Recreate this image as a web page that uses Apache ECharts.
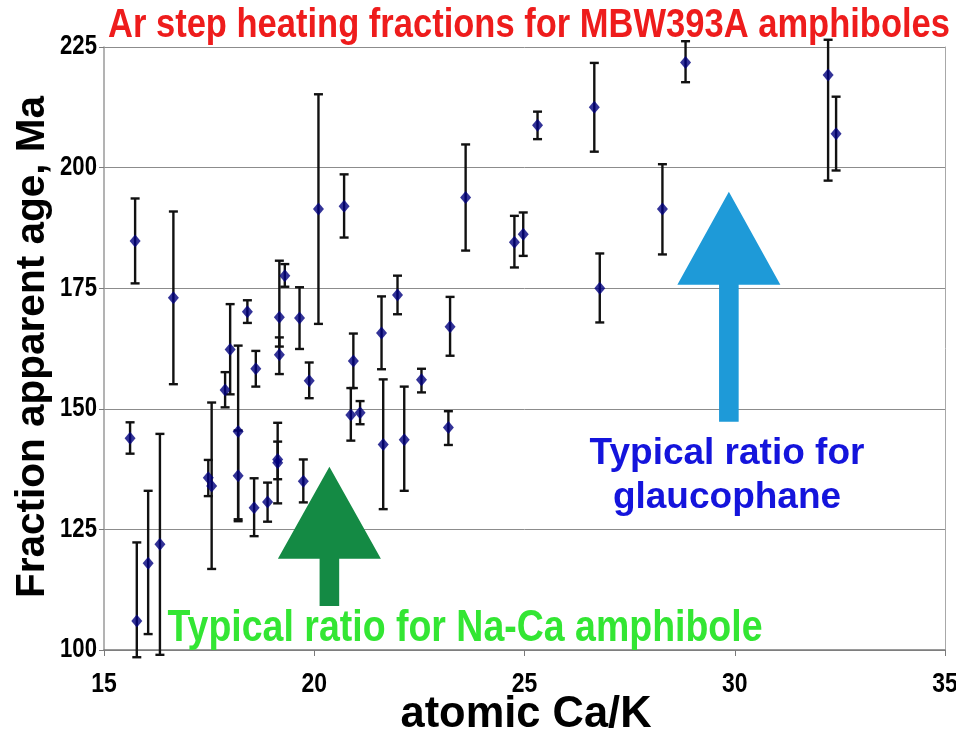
<!DOCTYPE html>
<html>
<head>
<meta charset="utf-8">
<script src="https://cdn.jsdelivr.net/npm/echarts@6/dist/echarts.min.js"></script>
<style>
  html, body { margin: 0; padding: 0; background: #fff; }
  #chart { width: 956px; height: 736px; }
</style>
</head>
<body>
<div id="chart"></div>
<script>
// Atomic Ca/K ratio of each step-heating fraction
const caK = [15.62, 15.74, 15.78, 16.05, 16.33, 16.65, 17.48, 17.56, 17.88, 18.00,
             18.19, 18.19, 18.41, 18.57, 18.61, 18.89, 19.13, 19.13, 19.17, 19.17,
             19.30, 19.65, 19.74, 19.88, 20.10, 20.71, 20.87, 20.93, 21.09, 21.60,
             21.64, 21.98, 22.14, 22.55, 23.19, 23.23, 23.60, 24.76, 24.97, 25.31,
             26.66, 26.79, 28.28, 28.83, 32.22, 32.41];
// Apparent age of each fraction (Ma)
const age = [143.9, 184.8, 106.0, 118.0, 121.9, 173.0, 135.7, 134.0, 153.9, 162.3,
             145.3, 136.1, 170.1, 129.5, 158.3, 130.7, 139.5, 138.8, 161.2, 169.0,
             177.6, 168.8, 135.0, 155.8, 191.4, 192.0, 148.7, 159.9, 149.2, 165.7,
             142.6, 173.6, 143.6, 156.0, 146.1, 167.0, 193.8, 184.5, 186.2, 208.8,
             212.5, 175.0, 191.4, 221.8, 219.2, 207.0];
// Upper end of each error bar (Ma)
const ageHigh = [147.2, 193.6, 122.3, 133.0, 144.8, 190.9, 139.4, 151.3, 157.6, 171.7,
                 163.1, 145.5, 172.5, 135.6, 162.0, 134.7, 147.1, 143.2, 164.8, 180.7,
                 180.0, 175.2, 139.5, 159.6, 215.2, 198.6, 154.3, 165.6, 151.6, 173.3,
                 156.1, 177.6, 154.6, 158.3, 149.5, 173.2, 204.8, 190.0, 190.7, 211.6,
                 221.7, 182.2, 200.7, 226.2, 226.5, 214.7];
// Lower end of each error bar (Ma)
const ageLow = [140.7, 176.0, 98.5, 103.3, 99.0, 155.1, 131.9, 116.8, 150.3, 153.0,
                127.1, 126.7, 167.8, 123.6, 154.6, 126.6, 130.4, 135.4, 157.2, 162.9,
                175.3, 162.4, 130.6, 152.2, 167.6, 185.5, 143.4, 154.3, 146.8, 158.2,
                129.2, 169.6, 133.0, 153.4, 142.5, 161.0, 182.8, 179.3, 181.7, 205.9,
                203.3, 167.9, 182.0, 217.7, 197.3, 199.4];

// Axis ranges and tick labels
const xTicks = [15, 20, 25, 30, 35];
const yTicks = [100, 125, 150, 175, 200, 225];

// Reference arrows in data space: [Ca/K, tip age, head-base age, tail age]
const arrowNaCa = [20.36, 138.0, 118.9, 109.1];
const arrowGlauc = [29.86, 195.0, 175.7, 147.3];

const FONT = '"Liberation Sans", Arial, sans-serif';
const NARROW = 0.82; // horizontal squeeze that gives a condensed bold face

const points = caK.map((x, i) => [x, age[i]]);
const bars = caK.map((x, i) => [x, ageLow[i], ageHigh[i]]);

const measureCtx = document.createElement('canvas').getContext('2d');
function textWidth(text, font) {
  measureCtx.font = font;
  return measureCtx.measureText(text).width;
}

const chart = echarts.init(document.getElementById('chart'), null, { renderer: 'canvas' });

function arrowItem(color) {
  return function (params, api) {
    const x = api.value(0);
    const tip = api.coord([x, api.value(1)]);
    const base = api.coord([x, api.value(2)]);
    const tail = api.coord([x, api.value(3)]);
    const headHalf = 51.5;
    const shaftHalf = 9.8;
    return {
      type: 'polygon',
      shape: {
        points: [
          [tip[0], tip[1]],
          [tip[0] + headHalf, base[1]],
          [tip[0] + shaftHalf, base[1]],
          [tip[0] + shaftHalf, tail[1]],
          [tip[0] - shaftHalf, tail[1]],
          [tip[0] - shaftHalf, base[1]],
          [tip[0] - headHalf, base[1]]
        ]
      },
      style: { fill: color, stroke: null }
    };
  };
}

const option = {
  backgroundColor: '#ffffff',
  animation: false,
  grid: { left: 104, right: 11, top: 47, bottom: 86, containLabel: false },
  xAxis: {
    type: 'value',
    min: xTicks[0],
    max: xTicks[xTicks.length - 1],
    interval: 5,
    axisLine: { show: true, lineStyle: { color: '#7a7a7a', width: 1.5 } },
    axisTick: { show: true, length: 6, lineStyle: { color: '#7a7a7a' } },
    axisLabel: { show: false },
    splitLine: { show: false }
  },
  yAxis: [{
    type: 'value',
    min: yTicks[0],
    max: yTicks[yTicks.length - 1],
    interval: 25,
    axisLine: { show: true, lineStyle: { color: '#9a9a9a', width: 1.5 } },
    axisTick: { show: true, length: 5, lineStyle: { color: '#7a7a7a' } },
    axisLabel: { show: false },
    splitLine: { show: true, lineStyle: { color: '#8c8c8c', width: 1 } }
  }, {
    type: 'value',
    position: 'right',
    min: yTicks[0],
    max: yTicks[yTicks.length - 1],
    interval: 25,
    axisLine: { show: true, lineStyle: { color: '#a8a8a8', width: 1 } },
    axisTick: { show: false },
    axisLabel: { show: false },
    splitLine: { show: false }
  }],
  series: [
    {
      name: 'arrow-naca',
      type: 'custom',
      coordinateSystem: 'cartesian2d',
      renderItem: arrowItem('#148a44'),
      data: [arrowNaCa],
      silent: true,
      z: 1
    },
    {
      name: 'arrow-glauc',
      type: 'custom',
      coordinateSystem: 'cartesian2d',
      renderItem: arrowItem('#1e9ad8'),
      data: [arrowGlauc],
      silent: true,
      z: 1
    },
    {
      name: 'error',
      type: 'custom',
      coordinateSystem: 'cartesian2d',
      clip: false,
      z: 2,
      renderItem: function (params, api) {
        const x = api.value(0);
        const lo = api.coord([x, api.value(1)]);
        const hi = api.coord([x, api.value(2)]);
        const cap = 4.5;
        const st = { stroke: '#111', lineWidth: 2.4 };
        return {
          type: 'group',
          children: [
            { type: 'line', shape: { x1: lo[0], y1: lo[1], x2: hi[0], y2: hi[1] }, style: st },
            { type: 'line', shape: { x1: hi[0] - cap, y1: hi[1], x2: hi[0] + cap, y2: hi[1] }, style: st },
            { type: 'line', shape: { x1: lo[0] - cap, y1: lo[1], x2: lo[0] + cap, y2: lo[1] }, style: st }
          ]
        };
      },
      encode: { x: 0, y: [1, 2] },
      data: bars
    },
    {
      name: 'age',
      type: 'scatter',
      symbol: 'diamond',
      symbolSize: [11, 13],
      itemStyle: { color: '#00007e' },
      z: 3,
      data: points
    }
  ]
};

chart.setOption(option);

// Text drawn as graphics so condensed faces can be squeezed horizontally
function label(text, x, y, opts) {
  const font = 'bold ' + opts.size + 'px ' + FONT;
  let sx = opts.scaleX || 1;
  if (opts.width) sx = opts.width / textWidth(text, font);
  return {
    type: 'text',
    x: x, y: y,
    rotation: opts.rotation || 0,
    scaleX: opts.rotation ? 1 : sx,
    scaleY: 1,
    z: 10,
    style: {
      text: text,
      x: 0, y: 0,
      align: opts.align || 'center',
      verticalAlign: 'middle',
      fill: opts.color || '#000',
      font: font
    }
  };
}

const graphics = [];

xTicks.forEach(function (v) {
  const p = chart.convertToPixel({ xAxisIndex: 0 }, v);
  graphics.push(label(String(v), p, 684, { size: 28, scaleX: NARROW }));
});
yTicks.forEach(function (v) {
  const p = chart.convertToPixel({ yAxisIndex: 0 }, v);
  graphics.push(label(String(v), 97, p, { size: 27, scaleX: NARROW, align: 'right' }));
});

graphics.push(label('Ar step heating fractions for MBW393A amphiboles', 529, 26,
  { size: 41, width: 842, color: '#ee1c1c' }));
graphics.push(label('atomic Ca/K', 526, 715, { size: 45, width: 251 }));
graphics.push(label('Fraction apparent age, Ma', 33, 347, { size: 40.5, rotation: Math.PI / 2 }));
graphics.push(label('Typical ratio for', 727, 454, { size: 37, color: '#1414dc' }));
graphics.push(label('glaucophane', 727, 498, { size: 37, color: '#1414dc' }));
graphics.push(label('Typical ratio for Na-Ca amphibole', 465, 629,
  { size: 44, width: 595, color: '#33e633' }));

chart.setOption({ graphic: graphics });
</script>
</body>
</html>
